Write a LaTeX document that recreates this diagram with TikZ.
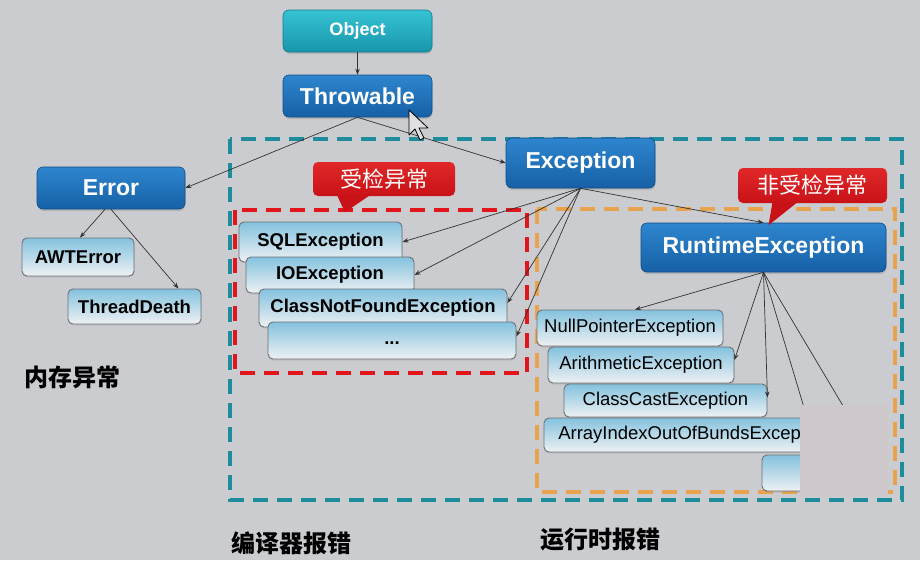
\documentclass[tikz,border=0pt]{standalone}
\usepackage{fontspec}
\setmainfont{Liberation Sans}
\newfontfamily\cjk{Noto Sans CJK SC}
\usetikzlibrary{shadows,arrows.meta}
\definecolor{bg}{HTML}{CBCCD0}
\definecolor{blueT}{HTML}{2E86CE}
\definecolor{blueB}{HTML}{1660A6}
\definecolor{blueD}{HTML}{0F4C86}
\definecolor{tealT}{HTML}{35C3D3}
\definecolor{tealB}{HTML}{1996AB}
\definecolor{tealD}{HTML}{137A8C}
\definecolor{lbT}{HTML}{84C2DE}
\definecolor{lbB}{HTML}{EEF1F3}
\definecolor{lbD}{HTML}{6C7074}
\definecolor{calT}{HTML}{E02828}
\definecolor{calB}{HTML}{C81218}
\definecolor{dashT}{HTML}{1F8C9B}
\definecolor{dashR}{HTML}{E2141C}
\definecolor{dashO}{HTML}{E9A24E}
\definecolor{pinkc}{HTML}{CEC8CC}
\begin{document}
\begin{tikzpicture}[x=1pt,y=-1pt,
  bluebox/.style={draw=blueD, line width=0.6pt, rounded corners=6pt,
    top color=blueT, bottom color=blueB, text=white,
    font=\fontsize{23}{23}\selectfont\bfseries, inner sep=0pt,
    drop shadow={opacity=0.3, shadow xshift=0.5pt, shadow yshift=-2pt}},
  tealbox/.style={bluebox, draw=tealD, top color=tealT, bottom color=tealB,
    font=\fontsize{18}{18}\selectfont\bfseries},
  lightbox/.style={draw=lbD, line width=0.9pt, rounded corners=5pt,
    top color=lbT, bottom color=lbB, text=black,
    font=\fontsize{18.5}{18.5}\selectfont\bfseries, inner sep=0pt,
    drop shadow={opacity=0.2, shadow xshift=0.5pt, shadow yshift=-1.5pt}},
  lightreg/.style={lightbox, font=\fontsize{18.5}{18.5}\selectfont},
  callout/.style={rounded corners=5pt, top color=calT, bottom color=calB,
    text=white, font=\cjk\fontsize{22}{22}\selectfont, inner sep=0pt},
  conn/.style={draw=black!80, line width=0.7pt,
    -{Stealth[length=6pt,width=4.5pt]}},
  frameT/.style={draw=dashT, line width=3.6pt, dash pattern=on 15pt off 9pt},
  frameR/.style={draw=dashR, line width=3.6pt, dash pattern=on 15pt off 9pt},
  frameO/.style={draw=dashO, line width=3.2pt, dash pattern=on 15pt off 9pt},
  lbl/.style={font=\cjk\bfseries\fontsize{24}{24}\selectfont, text=black, inner sep=0pt}
]
\fill[bg] (0,0) rectangle (920,560);
\useasboundingbox (0,0) rectangle (920,560);

% frames
\draw[frameT] (230,139) rectangle (902,500);
\draw[frameR] (235,210) rectangle (527,373);
\draw[frameO] (537,209) rectangle (895,492);

% main nodes
\node[tealbox, minimum width=149, minimum height=42] (obj) at (357.5,31) {Object};
\node[bluebox, minimum width=149, minimum height=42] (thr) at (357.5,96) {Throwable};
\node[bluebox, minimum width=148, minimum height=42] (err) at (111,188) {Error};
\node[bluebox, minimum width=149, minimum height=50] (exc) at (580.5,163) {Exception};
\node[bluebox, minimum width=245, minimum height=49] (rt) at (763.5,247.5) {RuntimeException};

% error children
\node[lightbox, minimum width=112, minimum height=38] (awt) at (78,257) {AWTError};
\node[lightbox, minimum width=133, minimum height=35] (td) at (134.5,306.5) {ThreadDeath};

% checked
\node[lightbox, minimum width=163, minimum height=40] (sql) at (320.5,242) {SQLException};
\node[lightbox, minimum width=168, minimum height=36] (io) at (330,275) {IOException};
\node[lightbox, minimum width=248, minimum height=38] (cnf) at (383,308) {ClassNotFoundException};
\node[lightbox, minimum width=248, minimum height=37] (dots) at (392,340.5) {\smash{\raisebox{-4pt}{...}}};

% unchecked
\node[lightreg, minimum width=186, minimum height=36] (npe) at (630,328) {NullPointerException};
\node[lightreg, minimum width=186, minimum height=36] (ae) at (641,365) {ArithmeticException};
\node[lightreg, minimum width=203, minimum height=33] (cce) at (665.5,400.5) {ClassCastException};
\node[lightreg, minimum width=301, minimum height=34] (aio) at (694.5,435) {ArrayIndexOutOfBundsException};
\node[lightreg, minimum width=118, minimum height=36] (last) at (821,473) {};

% connectors
\draw[conn] (obj.south) -- (thr.north);
\draw[conn] (thr.south) -- (err.east);
\draw[conn] (thr.south) -- (exc.west);
\draw[conn] ([xshift=-6pt]err.south) -- ([xshift=2pt]awt.north);
\draw[conn] (err.south) -- ([xshift=44pt]td.north);
\draw[conn] (exc.south) -- (sql.east);
\draw[conn] (exc.south) -- (io.east);
\draw[conn] (exc.south) -- ([yshift=5pt]cnf.east);
\draw[conn] (exc.south) -- ([yshift=4pt]dots.east);
\draw[conn] (exc.south) -- (rt.north);
\draw[conn] (rt.south) -- ([xshift=5pt]npe.north);
\draw[conn] (rt.south) -- ([yshift=5pt]ae.east);
\draw[conn] (rt.south) -- ([yshift=3pt]cce.east);
\draw[conn] (rt.south) -- ([xshift=112.5pt]aio.north);
\draw[conn] (rt.south) -- ([xshift=51pt]last.north);

% callouts
\node[callout, minimum width=142, minimum height=34] (c1) at (384,179) {受检异常};
\fill[calB] ([xshift=-47pt,yshift=1pt]c1.south) -- ([xshift=-39pt,yshift=-16pt]c1.south) -- ([xshift=-14pt,yshift=1pt]c1.south) -- cycle;
\node[callout, minimum width=149, minimum height=35] (c2) at (812.5,185.5) {非受检异常};
\fill[calB] ([xshift=-40pt,yshift=1pt]c2.south) -- ([xshift=-44pt,yshift=-22pt]c2.south) -- ([xshift=-15pt,yshift=1pt]c2.south) -- cycle;

% occluding patch
\fill[pinkc] (800,405) rectangle (888,497);

% cursor
\draw[fill=bg!60!white, line width=0.8pt, line join=round]
  (409,110) -- ++(0,25) -- ++(6,-6) -- ++(5,11) -- ++(4,-2) -- ++(-5,-10) -- ++(9,0) -- cycle;

% labels
\node[lbl] (mem) at (72,377) {内存异常};
\node[lbl] (comp) at (291,543) {编译器报错};
\node[lbl] (run) at (600,540) {运行时报错};
\end{tikzpicture}
\end{document}
